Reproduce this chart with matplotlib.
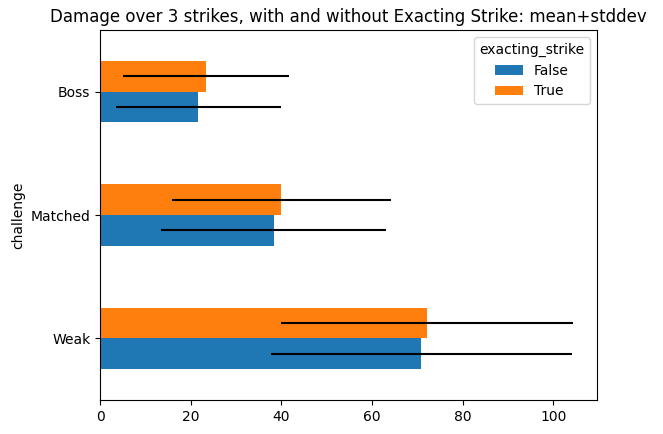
import pandas as pd
import matplotlib
matplotlib.use("Agg")
import matplotlib.pyplot as plt

challenges = ["Weak", "Matched", "Boss"]
mean_false = [70.8, 38.3, 21.7]
mean_true = [72.1, 40.0, 23.4]
std_false = [33.2, 24.8, 18.3]
std_true = [32.3, 24.1, 18.3]

means = pd.DataFrame({False: mean_false, True: mean_true}, index=challenges)
means.index.name = "challenge"
means.columns.name = "exacting_strike"
stds = pd.DataFrame({False: std_false, True: std_true}, index=challenges)
stds.index.name = "challenge"
stds.columns.name = "exacting_strike"

fig, ax = plt.subplots(figsize=(6.63, 4.34), dpi=100)
fig.subplots_adjust(left=0.151, right=0.9005, top=0.931, bottom=0.078)
means.plot.barh(xerr=stds, ax=ax)
ax.set_title("Damage over 3 strikes, with and without Exacting Strike: mean+stddev")
fig.savefig("out.png", dpi=100)
